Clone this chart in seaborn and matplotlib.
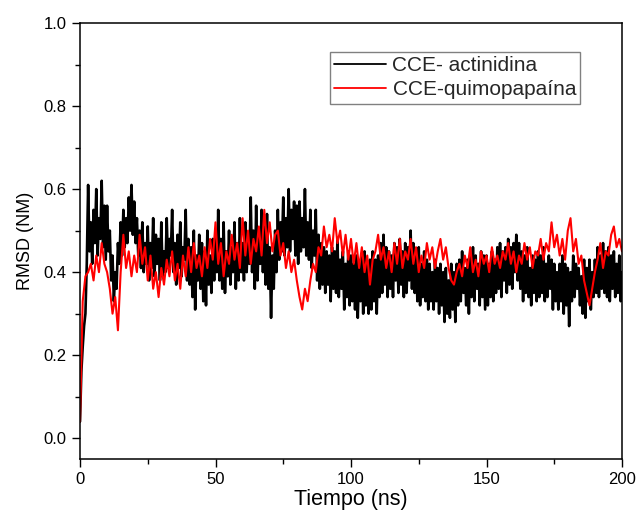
import numpy as np
import pandas as pd
import matplotlib
matplotlib.use("Agg")
import matplotlib.pyplot as plt
from matplotlib.ticker import MultipleLocator
import seaborn as sns

time_black = np.arange(0, 200.5, 0.5)
time_red = np.arange(0, 201, 1.0)

actinidina = [
    0.04, 0.16, 0.22, 0.27, 0.30, 0.42, 0.61, 0.45, 0.52, 0.42, 0.55, 0.47, 0.60, 0.44, 0.53, 0.48, 0.62, 0.46, 0.56, 0.43,
    0.56, 0.45, 0.50, 0.38, 0.44, 0.33, 0.40, 0.36, 0.47, 0.42, 0.52, 0.44, 0.55, 0.46, 0.53, 0.47, 0.58, 0.50, 0.61, 0.49,
    0.57, 0.47, 0.53, 0.44, 0.50, 0.41, 0.52, 0.40, 0.47, 0.42, 0.51, 0.38, 0.47, 0.41, 0.53, 0.39, 0.49, 0.42, 0.48, 0.38,
    0.52, 0.39, 0.45, 0.40, 0.53, 0.41, 0.48, 0.44, 0.55, 0.40, 0.47, 0.37, 0.49, 0.41, 0.52, 0.39, 0.46, 0.43, 0.55, 0.38,
    0.48, 0.37, 0.46, 0.34, 0.50, 0.31, 0.44, 0.38, 0.49, 0.36, 0.47, 0.33, 0.45, 0.32, 0.50, 0.37, 0.44, 0.35, 0.48, 0.38,
    0.50, 0.40, 0.55, 0.38, 0.48, 0.36, 0.52, 0.35, 0.45, 0.39, 0.50, 0.37, 0.46, 0.40, 0.52, 0.36, 0.47, 0.38, 0.53, 0.40,
    0.47, 0.38, 0.52, 0.40, 0.49, 0.42, 0.58, 0.40, 0.50, 0.36, 0.56, 0.38, 0.49, 0.42, 0.55, 0.40, 0.51, 0.37, 0.54, 0.36,
    0.46, 0.29, 0.44, 0.36, 0.50, 0.40, 0.55, 0.43, 0.52, 0.45, 0.58, 0.44, 0.53, 0.46, 0.60, 0.45, 0.55, 0.48, 0.57, 0.44,
    0.56, 0.42, 0.57, 0.45, 0.53, 0.46, 0.60, 0.44, 0.52, 0.43, 0.55, 0.41, 0.50, 0.44, 0.55, 0.38, 0.49, 0.36, 0.47, 0.37,
    0.46, 0.35, 0.45, 0.37, 0.44, 0.33, 0.46, 0.36, 0.45, 0.35, 0.48, 0.34, 0.43, 0.36, 0.45, 0.31, 0.42, 0.34, 0.45, 0.32,
    0.44, 0.33, 0.42, 0.31, 0.44, 0.29, 0.41, 0.33, 0.44, 0.30, 0.45, 0.32, 0.42, 0.30, 0.43, 0.31, 0.45, 0.33, 0.43, 0.30,
    0.44, 0.34, 0.47, 0.35, 0.49, 0.37, 0.46, 0.34, 0.45, 0.36, 0.44, 0.34, 0.47, 0.38, 0.46, 0.35, 0.48, 0.37, 0.45, 0.34,
    0.47, 0.35, 0.46, 0.38, 0.50, 0.36, 0.47, 0.35, 0.44, 0.33, 0.46, 0.32, 0.42, 0.34, 0.45, 0.33, 0.43, 0.31, 0.42, 0.33,
    0.40, 0.31, 0.43, 0.33, 0.41, 0.30, 0.42, 0.32, 0.40, 0.28, 0.41, 0.30, 0.38, 0.29, 0.42, 0.31, 0.40, 0.28, 0.42, 0.32,
    0.43, 0.33, 0.45, 0.35, 0.41, 0.32, 0.43, 0.30, 0.44, 0.34, 0.46, 0.33, 0.44, 0.36, 0.42, 0.32, 0.45, 0.34, 0.44, 0.31,
    0.44, 0.32, 0.42, 0.34, 0.45, 0.33, 0.43, 0.35, 0.46, 0.36, 0.47, 0.34, 0.45, 0.38, 0.46, 0.35, 0.48, 0.37, 0.46, 0.36,
    0.47, 0.40, 0.49, 0.38, 0.47, 0.36, 0.45, 0.33, 0.44, 0.35, 0.46, 0.34, 0.41, 0.32, 0.44, 0.35, 0.43, 0.33, 0.45, 0.34,
    0.44, 0.35, 0.46, 0.33, 0.42, 0.34, 0.44, 0.36, 0.43, 0.31, 0.42, 0.33, 0.40, 0.31, 0.42, 0.33, 0.44, 0.30, 0.42, 0.32,
    0.41, 0.27, 0.40, 0.33, 0.44, 0.34, 0.42, 0.36, 0.41, 0.32, 0.39, 0.30, 0.43, 0.29, 0.41, 0.33, 0.43, 0.31, 0.40, 0.34,
    0.43, 0.35, 0.46, 0.34, 0.44, 0.36, 0.47, 0.35, 0.45, 0.34, 0.46, 0.33, 0.44, 0.36, 0.45, 0.34, 0.42, 0.35, 0.44, 0.33,
    0.40,
]

quimopapaina = [
    0.04, 0.33, 0.39, 0.40, 0.42, 0.38, 0.44, 0.40, 0.47, 0.42, 0.40,
    0.36, 0.30, 0.34, 0.26, 0.40, 0.49, 0.41, 0.45, 0.39, 0.44,
    0.40, 0.49, 0.42, 0.46, 0.38, 0.44, 0.36, 0.40, 0.34, 0.41,
    0.37, 0.43, 0.39, 0.45, 0.38, 0.42, 0.36, 0.44, 0.39, 0.46,
    0.40, 0.47, 0.41, 0.44, 0.39, 0.46, 0.41, 0.48, 0.43, 0.52,
    0.42, 0.47, 0.39, 0.45, 0.42, 0.49, 0.43, 0.47, 0.41, 0.53,
    0.44, 0.50, 0.42, 0.48, 0.45, 0.51, 0.44, 0.55, 0.47, 0.52,
    0.45, 0.49, 0.50, 0.44, 0.47, 0.41, 0.45, 0.40, 0.43, 0.38,
    0.34, 0.31, 0.36, 0.33, 0.38, 0.42, 0.40, 0.46, 0.44, 0.51,
    0.46, 0.49, 0.45, 0.53, 0.47, 0.50, 0.44, 0.49, 0.43, 0.48,
    0.42, 0.47, 0.41, 0.46, 0.40, 0.44, 0.37, 0.43, 0.45, 0.49,
    0.43, 0.46, 0.41, 0.45, 0.40, 0.47, 0.42, 0.48, 0.41, 0.45,
    0.43, 0.48, 0.42, 0.46, 0.40, 0.44, 0.41, 0.47, 0.43, 0.46,
    0.41, 0.45, 0.48, 0.43, 0.46, 0.41, 0.38, 0.37, 0.40, 0.42,
    0.39, 0.44, 0.41, 0.46, 0.40, 0.43, 0.39, 0.45, 0.42, 0.44,
    0.40, 0.46, 0.42, 0.44, 0.41, 0.45, 0.43, 0.47, 0.42, 0.45,
    0.40, 0.44, 0.42, 0.47, 0.43, 0.46, 0.41, 0.45, 0.44, 0.48,
    0.43, 0.47, 0.45, 0.52, 0.46, 0.49, 0.44, 0.48, 0.43, 0.50,
    0.53, 0.45, 0.48, 0.42, 0.44, 0.38, 0.35, 0.32, 0.36, 0.40,
    0.43, 0.47, 0.41, 0.45, 0.44, 0.49, 0.51, 0.46, 0.48, 0.45,
]

series_names = ["CCE- actinidina", "CCE-quimopapaína"]
series_colors = ["#000000", "#ff0000"]
series_widths = [1.9, 1.5]

df = pd.concat([
    pd.DataFrame({"t": time_black, "rmsd": actinidina, "serie": series_names[0]}),
    pd.DataFrame({"t": time_red, "rmsd": quimopapaina, "serie": series_names[1]}),
])

sns.set_theme(style="white")
plt.rcParams["font.family"] = ["Liberation Sans", "DejaVu Sans"]

fig = plt.figure(figsize=(6.39, 5.12), dpi=100)
ax = fig.add_axes([80 / 639, 1 - 459 / 512, (622 - 80) / 639, (459 - 23) / 512])

sns.lineplot(data=df, x="t", y="rmsd", hue="serie", palette=series_colors,
             hue_order=series_names, linewidth=1.5, ax=ax, legend=True,
             estimator=None, sort=False)
for line, w in zip(ax.lines[:2], series_widths):
    line.set_linewidth(w)

ax.set_xlim(0, 200)
ax.set_ylim(-0.05, 1.0)
ax.xaxis.set_major_locator(MultipleLocator(50))
ax.xaxis.set_minor_locator(MultipleLocator(25))
ax.yaxis.set_major_locator(MultipleLocator(0.2))
ax.yaxis.set_minor_locator(MultipleLocator(0.1))
ax.yaxis.set_major_formatter(matplotlib.ticker.FormatStrFormatter("%.1f"))

for s in ax.spines.values():
    s.set_visible(True)
    s.set_color("black")
    s.set_linewidth(1.1)

ax.tick_params(which="both", direction="out", color="black", top=False, right=False,
               left=True, bottom=True, labelsize=12, labelcolor="black", width=1.0)
ax.tick_params(which="major", length=6)
ax.tick_params(which="minor", length=3.5)

ax.set_xlabel("Tiempo (ns)", fontsize=15.5, color="black", labelpad=1)
ax.set_ylabel("RMSD (NM)", fontsize=13, color="black", labelpad=7)

ax.legend(loc="upper left", bbox_to_anchor=(330 / 639, 1 - 52 / 512),
          bbox_transform=fig.transFigure, fontsize=15, frameon=True,
          fancybox=False, edgecolor="#808080", framealpha=1,
          handlelength=2.5, handletextpad=0.3, borderpad=0.2,
          labelspacing=0.25, borderaxespad=0)
leg = ax.get_legend()
leg.get_frame().set_linewidth(1.0)
for line in leg.get_lines():
    line.set_linewidth(1.3)

fig.savefig("out.png", dpi=100)
